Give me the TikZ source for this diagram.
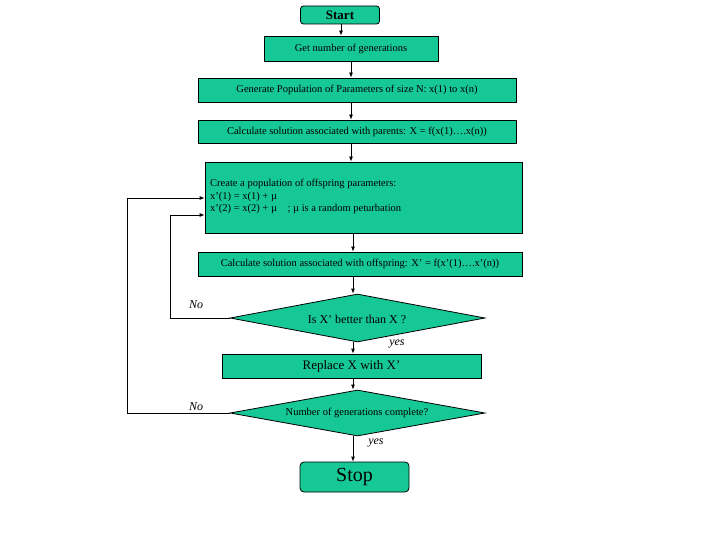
\documentclass[tikz,border=0pt]{standalone}
\usepackage{fontspec}
\setmainfont{Liberation Serif}
\usetikzlibrary{shapes.geometric,arrows.meta}
\definecolor{boxg}{RGB}{22,200,150}
\begin{document}
\begin{tikzpicture}[x=1pt,y=-1pt,
  box/.style={draw,thick,fill=boxg,inner sep=0pt,font=\fontsize{10.5}{12}\selectfont},
  dia/.style={draw,thick,fill=boxg,diamond,inner sep=0pt},
  arr/.style={thick,-{Latex[length=5pt,width=4pt]}},
  lab/.style={font=\itshape\fontsize{12}{14}\selectfont}]
\useasboundingbox (0,0) rectangle (720,540);
\node[box,rounded corners=3pt,minimum width=79pt,minimum height=18pt,font=\bfseries\fontsize{13}{15}\selectfont] (start) at (340,15) {Start};
\node[box,minimum width=174pt,minimum height=25pt] (get) at (351,48.5) {Get number of generations};
\node[box,minimum width=318pt,minimum height=24pt] (gen) at (357,90) {Generate Population of Parameters of size N: x(1) to x(n)};
\node[box,minimum width=318pt,minimum height=23pt] (par) at (357,131.5) {Calculate solution associated with parents: X = f(x(1)….x(n))};
\node[box,minimum width=317pt,minimum height=71pt] (cre) at (363.5,197.5) {};
\node[font=\fontsize{10.5}{12.5}\selectfont,align=left,anchor=north west,inner sep=0pt] (cretxt) at (210,179) {Create a population of offspring parameters:\\x’(1) = x(1) + µ\\x’(2) = x(2) + µ\quad ; µ is a random peturbation};
\node[box,minimum width=324pt,minimum height=24pt] (off) at (360,264) {Calculate solution associated with offspring: X’ = f(x’(1)….x’(n))};
\node[dia,minimum width=255pt,minimum height=48pt,aspect=5.3,font=\fontsize{12}{14}\selectfont,shape aspect=5.3] (d1) at (357.5,318) {};
\node[font=\fontsize{12}{14}\selectfont] (d1t) at (357,319) {Is X’ better than X ?};
\node[box,minimum width=259pt,minimum height=24pt,font=\fontsize{13}{15}\selectfont] (rep) at (351.5,366) {Replace X with X’};
\node[dia,minimum width=255pt,minimum height=46pt,shape aspect=5.5] (d2) at (357.5,413) {};
\node[font=\fontsize{10.5}{12}\selectfont] (d2t) at (357,413) {Number of generations complete?};
\node[box,rounded corners=4pt,minimum width=109pt,minimum height=30pt,font=\fontsize{20}{22}\selectfont] (stop) at (354.5,477) {Stop};
\coordinate (a1) at (341,24);
\draw[arr] (start.south -| a1) -- (get.north -| a1);
\draw[arr] (get.south) -- (gen.north -| get.south);
\draw[arr] (gen.south -| get.south) -- (par.north -| get.south);
\draw[arr] (par.south -| get.south) -- (cre.north -| get.south);
\coordinate (ax) at (353,0);
\draw[arr] (cre.south -| ax) -- (off.north -| ax);
\draw[arr] (off.south -| ax) -- (d1.north -| ax);
\draw[arr] (d1.south -| ax) -- (rep.north -| ax);
\draw[arr] (rep.south -| ax) -- (d2.north -| ax);
\draw[arr] (d2.south -| ax) -- (stop.north -| ax);
\coordinate (l1) at (170,215);
\coordinate (l2) at (127,198);
\draw[arr] (d1.west) -- (l1 |- d1.west) -- (l1) -- (cre.west |- l1);
\draw[arr] (d2.west) -- (l2 |- d2.west) -- (l2) -- (cre.west |- l2);
\node[lab] (no1) at (196,305) {No};
\node[lab] (no2) at (196,407) {No};
\node[lab] (y1) at (397,344) {yes};
\node[lab] (y2) at (376,443) {yes};
\end{tikzpicture}
\end{document}
